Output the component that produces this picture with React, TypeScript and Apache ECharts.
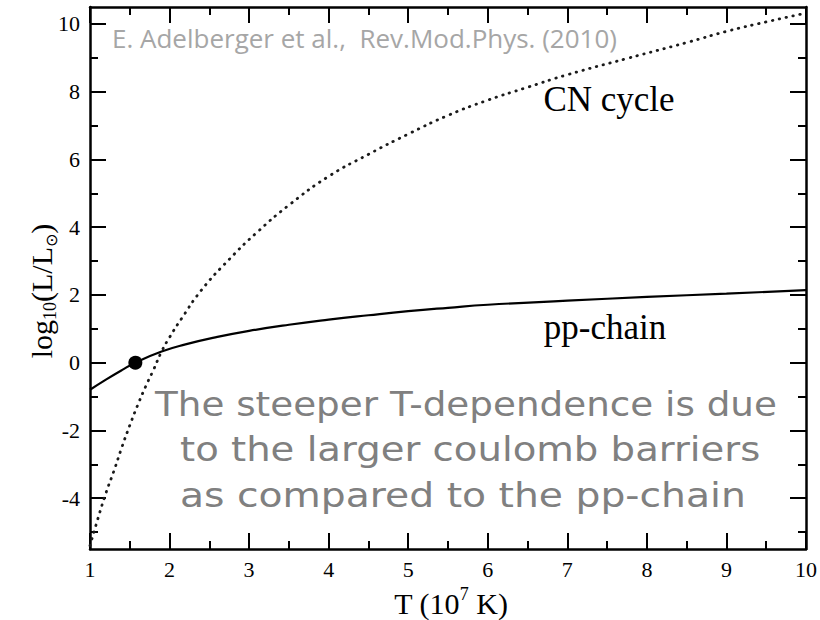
import React, { useEffect, useRef } from "react";
import * as echarts from "echarts";

// Temperature axis ticks (10^7 K)
const tempMin = 1;
const tempMax = 10;
// log10(L/Lsun) ticks
const lumMin = -5.5;
const lumMax = 10.5;
const lumMajorTicks = [-4, -2, 0, 2, 4, 6, 8, 10];
const lumMinorTicks = [-5, -3, -1, 1, 3, 5, 7, 9];

// pp-chain curve
const ppT = [1.0, 1.2, 1.4, 1.57, 1.9, 2.2, 2.6, 3.0, 3.5, 4.0, 4.5, 5.0, 5.5, 6.0, 7.0, 8.0, 9.0, 10.0];
const ppLogL = [-0.8, -0.5, -0.22, 0.0, 0.33, 0.54, 0.76, 0.94, 1.12, 1.27, 1.4, 1.52, 1.62, 1.71, 1.83, 1.94, 2.04, 2.14];

// CN cycle curve
const cnT = [1.0, 1.1, 1.2, 1.3, 1.4, 1.5, 1.6, 1.7, 1.8, 1.9, 2.0, 2.15, 2.4, 2.75, 3.1, 3.5, 4.0, 4.5, 5.0, 5.5, 6.0, 6.5, 7.0, 7.75, 8.5, 9.0, 9.5, 10.0];
const cnLogL = [-5.4, -4.6, -3.85, -3.2, -2.5, -1.85, -1.25, -0.7, -0.2, 0.33, 0.75, 1.3, 2.14, 3.05, 3.85, 4.65, 5.5, 6.15, 6.75, 7.3, 7.75, 8.13, 8.5, 8.98, 9.45, 9.78, 10.06, 10.32];

// The Sun today
const sunT = [1.57];
const sunLogL = [0];

const citation = "E. Adelberger et al.,  Rev.Mod.Phys. (2010)";
const noteLines = [
  "The steeper T-dependence is due",
  "to the larger coulomb barriers",
  "as compared to the pp-chain",
];

const SERIF = "'Liberation Serif', 'Times New Roman', serif";

export default function App() {
  const ref = useRef<HTMLDivElement>(null);

  useEffect(() => {
    if (!ref.current) return;
    const chart = echarts.init(ref.current, null, { renderer: "svg" });

    const axisLine = { show: true, onZero: false, lineStyle: { color: "#000", width: 2.5 } };
    const tickStyle = { color: "#000", width: 2 };

    const xBase = (position: string, showLabel: boolean) => ({
      type: "value",
      position,
      min: tempMin,
      max: tempMax,
      interval: 1,
      axisLine,
      axisTick: { show: true, inside: true, length: 16, lineStyle: tickStyle },
      minorTick: { show: true, splitNumber: 2, length: 8, lineStyle: tickStyle },
      axisLabel: {
        show: showLabel,
        color: "#000",
        fontFamily: SERIF,
        fontSize: 22,
        margin: 9,
        showMinLabel: true,
        showMaxLabel: true,
      },
      splitLine: { show: false },
      minorSplitLine: { show: false },
    });

    const yBase = (position: string, major: boolean, showLabel: boolean) => ({
      type: "value",
      position,
      min: lumMin,
      max: lumMax,
      axisLine: major ? axisLine : { show: false, onZero: false },
      axisTick: {
        show: true,
        inside: true,
        length: major ? 16 : 8,
        lineStyle: tickStyle,
        customValues: major ? lumMajorTicks : lumMinorTicks,
      },
      axisLabel: {
        show: showLabel,
        color: "#000",
        fontFamily: SERIF,
        fontSize: 22,
        margin: 10,
        customValues: lumMajorTicks,
        formatter: (v: number) => String(v),
      },
      splitLine: { show: false },
    });

    const option: any = {
      animation: false,
      backgroundColor: "#fff",
      grid: { left: 90, right: 9, top: 7, bottom: 71, containLabel: false },
      xAxis: [xBase("bottom", true), xBase("top", false)],
      yAxis: [
        yBase("left", true, true),
        yBase("left", false, false),
        yBase("right", true, false),
        yBase("right", false, false),
      ],
      series: [
        {
          name: "CN cycle",
          type: "line",
          xAxisIndex: 0,
          yAxisIndex: 0,
          data: cnT.map((t, i) => [t, cnLogL[i]]),
          showSymbol: false,
          symbol: "none",
          smooth: true,
          lineStyle: { color: "#1a1a1a", width: 2.8, type: [0.5, 6.5], cap: "round" },
          z: 2,
        },
        {
          name: "pp-chain",
          type: "line",
          xAxisIndex: 0,
          yAxisIndex: 0,
          data: ppT.map((t, i) => [t, ppLogL[i]]),
          showSymbol: false,
          symbol: "none",
          smooth: true,
          lineStyle: { color: "#000", width: 2.2 },
          z: 3,
        },
        {
          name: "Sun",
          type: "scatter",
          xAxisIndex: 0,
          yAxisIndex: 0,
          data: sunT.map((t, i) => [t, sunLogL[i]]),
          symbol: "circle",
          symbolSize: 14,
          itemStyle: { color: "#000", opacity: 1 },
          z: 4,
        },
      ],
      graphic: [
        {
          type: "text",
          x: 112,
          y: 38,
          scaleX: 1.04,
          style: {
            text: citation,
            fill: "#a6a6a6",
            fontFamily: "'Open Sans', Lato, sans-serif",
            fontSize: 25,
            align: "left",
            verticalAlign: "middle",
          },
        },
        {
          type: "text",
          x: 609,
          y: 99,
          style: {
            text: "CN cycle",
            fill: "#000",
            fontFamily: SERIF,
            fontSize: 35,
            align: "center",
            verticalAlign: "middle",
          },
        },
        {
          type: "text",
          x: 605,
          y: 327,
          style: {
            text: "pp-chain",
            fill: "#000",
            fontFamily: SERIF,
            fontSize: 35,
            align: "center",
            verticalAlign: "middle",
          },
        },
        ...noteLines.map((line, i) => ({
          type: "text",
          x: [155, 180, 180][i],
          y: [404, 450, 496][i],
          scaleX: [1.13, 1.17, 1.19][i],
          style: {
            text: line,
            fill: "#808080",
            fontFamily: "'DejaVu Sans', sans-serif",
            fontSize: 33,
            align: "left",
            verticalAlign: "middle",
          },
        })),
        {
          type: "text",
          x: 451,
          y: 603,
          style: {
            text: "{a|T (10}{b|7}{a| K)}",
            align: "center",
            verticalAlign: "middle",
            rich: {
              a: { fontFamily: SERIF, fontSize: 30, fill: "#000", lineHeight: 36, verticalAlign: "middle" },
              b: { fontFamily: SERIF, fontSize: 18, fill: "#000", lineHeight: 18, verticalAlign: "top" },
            },
          },
        },
        {
          type: "text",
          x: 41,
          y: 291,
          rotation: Math.PI / 2,
          style: {
            text: "{a|log}{s|10}{a|(L/L}{t|⊙}{a|)}",
            align: "center",
            verticalAlign: "middle",
            rich: {
              a: { fontFamily: SERIF, fontSize: 30, fill: "#000", lineHeight: 36, verticalAlign: "middle" },
              s: { fontFamily: SERIF, fontSize: 18, fill: "#000", lineHeight: 18, verticalAlign: "bottom" },
              t: { fontFamily: "'DejaVu Sans', sans-serif", fontSize: 16, fill: "#000", lineHeight: 18, verticalAlign: "bottom" },
            },
          },
        },
      ],
    };

    chart.setOption(option);
    return () => chart.dispose();
  }, []);

  return (
    <div
      ref={ref}
      style={{ position: "fixed", left: 0, top: 0, width: 820, height: 620, background: "#fff" }}
    />
  );
}
